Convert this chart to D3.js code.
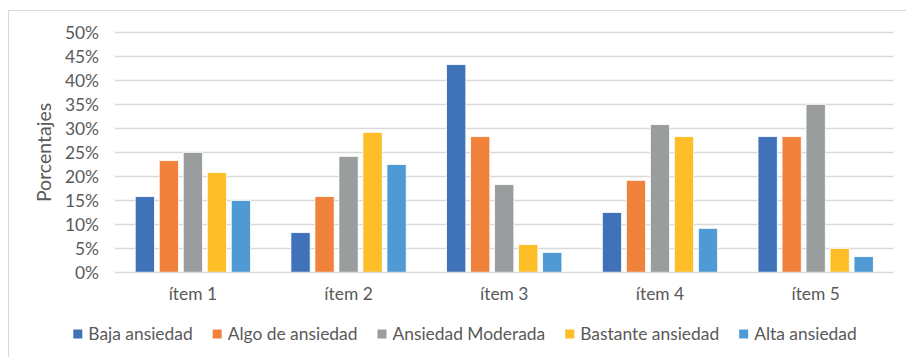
<!DOCTYPE html>
<html>
<head>
<meta charset="utf-8">
<script src="https://cdn.jsdelivr.net/npm/d3@7"></script>
<style>
  html, body { margin: 0; padding: 0; background: #fff; }
  svg { display: block; }
  text { font-family: Lato, "Open Sans", sans-serif; fill: #595959; }
</style>
</head>
<body>
<svg id="chart" width="906" height="357"></svg>
<script>
// Categories (items of the questionnaire)
const categories = ["ítem 1", "ítem 2", "ítem 3", "ítem 4", "ítem 5"];

// Anxiety levels (series)
const seriesNames = ["Baja ansiedad", "Algo de ansiedad", "Ansiedad Moderada", "Bastante ansiedad", "Alta ansiedad"];
const seriesColors = ["#4072BA", "#F0823C", "#9A9D9E", "#FDBE27", "#4F9AD4"];

// Percentages per series, one value per item
const bajaAnsiedad      = [15.8,  8.3, 43.3, 12.5, 28.3];
const algoDeAnsiedad    = [23.3, 15.8, 28.3, 19.2, 28.3];
const ansiedadModerada  = [25.0, 24.2, 18.3, 30.8, 35.0];
const bastanteAnsiedad  = [20.8, 29.2,  5.8, 28.3,  5.0];
const altaAnsiedad      = [15.0, 22.5,  4.2,  9.2,  3.3];
const seriesValues = [bajaAnsiedad, algoDeAnsiedad, ansiedadModerada, bastanteAnsiedad, altaAnsiedad];

// Y axis ticks
const yTicks = [0, 5, 10, 15, 20, 25, 30, 35, 40, 45, 50];
const yTitle = "Porcentajes";

const FONT = "Lato, 'Open Sans', sans-serif";
const FS = 17.4;

const svg = d3.select("#chart");
const W = 906, H = 357;
const plot = { left: 115, right: 893.5, top: 32.5, bottom: 272.5 };

// Outer chart frame
svg.append("rect")
  .attr("x", 8.5).attr("y", 10.5)
  .attr("width", W + 20).attr("height", H + 20)
  .attr("fill", "#fff").attr("stroke", "#D9D9D9").attr("stroke-width", 1);

const y = d3.scaleLinear().domain([0, 50]).range([plot.bottom, plot.top]);

const x0 = d3.scaleBand().domain(categories)
  .range([plot.left, plot.right])
  .paddingInner(0.229).paddingOuter(0.1145);

const x1 = d3.scaleBand().domain(seriesNames)
  .range([0, x0.bandwidth()])
  .paddingInner(0.2).paddingOuter(0.1);

// Horizontal gridlines
svg.append("g").selectAll("line")
  .data(yTicks.filter(t => t > 0))
  .join("line")
  .attr("x1", plot.left).attr("x2", plot.right)
  .attr("y1", d => y(d)).attr("y2", d => y(d))
  .attr("stroke", "#D9D9D9").attr("stroke-width", 1.3);

// Y tick labels
const yAxis = d3.axisLeft(y).tickValues(yTicks).tickFormat(d => d + "%").tickSize(0).tickPadding(0);
const gy = svg.append("g").attr("transform", `translate(${plot.left - 16},0)`).call(yAxis);
gy.select(".domain").remove();
gy.selectAll("text")
  .attr("font-size", FS).attr("fill", "#595959")
  .style("font-family", FONT);

// Bars
const rows = [];
categories.forEach((c, i) => {
  seriesNames.forEach((s, j) => rows.push({ cat: c, series: s, value: seriesValues[j][i], color: seriesColors[j] }));
});
svg.append("g").selectAll("rect")
  .data(rows)
  .join("rect")
  .attr("x", d => x0(d.cat) + x1(d.series))
  .attr("y", d => y(d.value))
  .attr("width", x1.bandwidth())
  .attr("height", d => y(0) - y(d.value))
  .attr("fill", d => d.color)
  .attr("stroke", "#fff").attr("stroke-width", 0.75);

// Baseline
svg.append("line")
  .attr("x1", plot.left).attr("x2", plot.right)
  .attr("y1", y(0)).attr("y2", y(0))
  .attr("stroke", "#D9D9D9").attr("stroke-width", 1.5);

// Category labels
const xAxis = d3.axisBottom(x0).tickSize(0).tickPadding(0);
const gx = svg.append("g").attr("transform", `translate(0,${y(0) + 27})`).call(xAxis);
gx.select(".domain").remove();
gx.selectAll("text")
  .attr("dy", 0).attr("font-size", FS).attr("fill", "#595959")
  .style("font-family", FONT);

// Y axis title
svg.append("text")
  .attr("transform", `translate(51,${(plot.top + plot.bottom) / 2}) rotate(-90)`)
  .attr("text-anchor", "middle")
  .attr("font-size", 19.5)
  .text(yTitle);

// Legend, laid out from measured label widths and centred
const legend = svg.append("g");
const items = legend.selectAll("g").data(seriesNames).join("g");
items.append("rect")
  .attr("width", 9).attr("height", 9).attr("y", -4.5)
  .attr("fill", (d, i) => seriesColors[i]);
items.append("text")
  .attr("x", 15).attr("dy", "0.35em")
  .attr("font-size", FS)
  .text(d => d);
let cursor = 0;
items.each(function () {
  const g = d3.select(this);
  g.attr("transform", `translate(${cursor},0)`);
  cursor += 15 + g.select("text").node().getComputedTextLength() + 20;
});
const legendWidth = cursor - 20;
legend.attr("transform", `translate(${465 - legendWidth / 2},334)`);
</script>
</body>
</html>
